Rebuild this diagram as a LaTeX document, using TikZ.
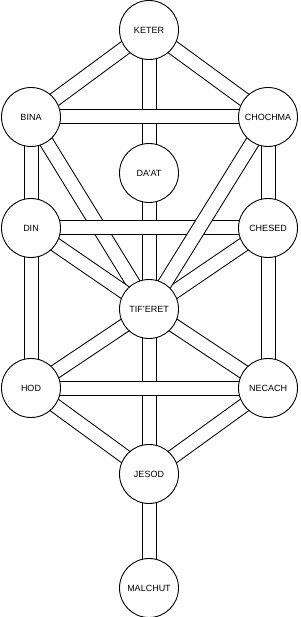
\documentclass[tikz,border=0pt]{standalone}
\usepackage{fontspec}
\setmainfont{Liberation Sans}
\usepackage{tikz}
\usetikzlibrary{backgrounds}
\tikzset{
sefira/.style={circle, draw=black, line width=0.9pt, fill=white, minimum size=59pt, inner sep=0pt, font=\fontsize{9}{10}\selectfont},
pathout/.style={draw=black, line width=15pt, line cap=butt},
pathin/.style={draw=white, line width=13pt, line cap=butt}
}
\begin{document}
\begin{tikzpicture}[x=1pt, y=-1pt]
  \useasboundingbox (0,0) rectangle (300,617);
  \node[sefira] (keter) at (149,30) {KETER};
  \node[sefira] (bina) at (31,117) {BINA};
  \node[sefira] (chochma) at (268,117) {CHOCHMA};
  \node[sefira] (daat) at (149,173) {DA'AT};
  \node[sefira] (din) at (31,228) {DIN};
  \node[sefira] (chesed) at (268,228) {CHESED};
  \node[sefira] (tiferet) at (149,309) {TIF'ERET};
  \node[sefira] (hod) at (31,388) {HOD};
  \node[sefira] (necach) at (268,388) {NECACH};
  \node[sefira] (jesod) at (149,474) {JESOD};
  \node[sefira] (malchut) at (149,588) {MALCHUT};
  % paths, later ones lie over earlier ones where they cross
  \begin{scope}[on background layer]
    \foreach \a/\b in {keter/daat, daat/tiferet, tiferet/jesod, jesod/malchut,
        keter/bina, keter/chochma, bina/din, chochma/chesed, din/hod, chesed/necach,
        bina/tiferet, din/tiferet, chesed/tiferet, tiferet/hod, tiferet/necach,
        hod/jesod, necach/jesod, bina/chochma, din/chesed, hod/necach, chochma/tiferet} {
      \draw[pathout] (\a.center) -- (\b.center);
      \draw[pathin] (\a.center) -- (\b.center);
    }
  \end{scope}
\end{tikzpicture}
\end{document}
